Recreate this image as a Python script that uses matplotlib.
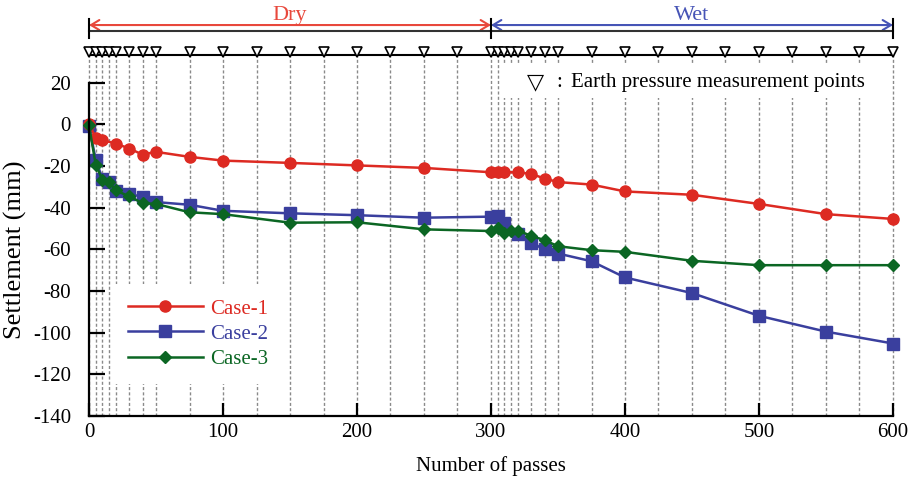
import matplotlib
matplotlib.use("Agg")
import matplotlib.pyplot as plt
from matplotlib.patches import Rectangle

plt.rcParams['font.family'] = ['Liberation Serif', 'DejaVu Sans']
plt.rcParams['axes.unicode_minus'] = False

# ---------------- data ----------------
case1_x = [0, 5, 10, 20, 30, 40, 50, 75, 100, 150, 200, 250, 300, 305, 310, 320,
           330, 340, 350, 375, 400, 450, 500, 550, 600]
case1_y = [0, -6.4, -7.6, -9.2, -11.6, -14.5, -13.2, -15.6, -17.4, -18.5, -19.7, -20.9,
           -23.0, -23.0, -23.0, -23.0, -23.8, -26.0, -27.7, -28.9, -32.2, -33.8, -38.2,
           -43.1, -45.4]

case2_x = [0, 5, 10, 15, 20, 30, 40, 50, 75, 100, 150, 200, 250, 300, 305, 310, 320,
           330, 340, 350, 375, 400, 450, 500, 550, 600]
case2_y = [-0.8, -16.9, -26.0, -27.7, -32.2, -33.3, -34.9, -37.3, -38.6, -41.5, -42.7,
           -43.6, -44.8, -44.3, -44.0, -47.2, -52.8, -56.9, -60.0, -62.0, -65.7, -73.5,
           -81.0, -91.9, -99.5, -105.2]

case3_x = [0, 5, 10, 15, 20, 30, 40, 50, 75, 100, 150, 200, 250, 300, 305, 310, 315,
           320, 330, 340, 350, 375, 400, 450, 500, 550, 600]
case3_y = [-0.5, -19.3, -26.6, -27.7, -31.7, -34.6, -37.8, -38.2, -42.2, -43.1, -47.2,
           -47.0, -50.4, -51.2, -49.9, -52.3, -51.0, -51.0, -53.5, -55.6, -58.5, -60.4,
           -61.2, -65.5, -67.6, -67.6, -67.6]

measure_points = [0, 5, 10, 15, 20, 30, 40, 50, 75, 100, 125, 150, 175, 200, 225, 250,
                  275, 300, 305, 310, 315, 320, 330, 340, 350, 375, 400, 425, 450, 475,
                  500, 525, 550, 575, 600]

series_labels = ["Case-1", "Case-2", "Case-3"]
x_ticks = [0, 100, 200, 300, 400, 500, 600]
y_ticks = [-140, -120, -100, -80, -60, -40, -20, 0, 20]
phase_labels = ["Dry", "Wet"]
phase_bounds = [0, 300, 600]

# ---------------- style ----------------
RED = '#DD2A22'
BLUE = '#3A3F9E'
GREEN = '#0B6623'
RED_ARROW = '#E8483C'
BLUE_ARROW = '#4654B6'
FS = 15

fig = plt.figure(figsize=(9.15, 4.82), dpi=100)
ax = fig.add_axes([89 / 915, 1 - 416 / 482, (893 - 89) / 915, (416 - 82.7) / 482])

ax.set_xlim(0, 600)
ax.set_ylim(-140, 20)

trans = ax.get_xaxis_transform()
top_line = 1.084

# dashed measurement lines
ax.vlines(measure_points, 0, top_line, transform=trans, colors='#8a8a8a',
          linestyles=(0, (2.2, 1.6)), linewidth=1.0, zorder=1, clip_on=False)

# white box behind annotation text
ax.add_patch(Rectangle((308, 0.954), 289, 0.105, transform=trans, facecolor='white',
                       edgecolor='none', zorder=2, clip_on=False))

# series
ax.plot(case1_x, case1_y, color=RED, lw=1.8, marker='o', ms=8, mec=RED, mfc=RED,
        zorder=4, clip_on=False, label=series_labels[0])
ax.plot(case2_x, case2_y, color=BLUE, lw=1.8, marker='s', ms=8.5, mec=BLUE, mfc=BLUE,
        zorder=3, clip_on=False, label=series_labels[1])
ax.plot(case3_x, case3_y, color=GREEN, lw=1.8, marker='D', ms=6, mec=GREEN, mfc=GREEN,
        zorder=5, clip_on=False, label=series_labels[2])

# top row: baseline and triangle markers
ax.plot([0, 600], [top_line, top_line], transform=trans, color='black', lw=1.5,
        clip_on=False, zorder=6)
ax.plot(measure_points, [top_line + 0.009] * len(measure_points), transform=trans,
        linestyle='none', marker='v', ms=6.5, mfc='white', mec='black', mew=1.2,
        clip_on=False, zorder=7)

# phase bracket
bracket_y = 1.155
ax.plot([phase_bounds[0], phase_bounds[-1]], [bracket_y, bracket_y], transform=trans,
        color='#333333', lw=1.5, clip_on=False, zorder=6)
for xb in phase_bounds:
    ax.plot([xb, xb], [1.134, 1.19], transform=trans, color='black', lw=1.5,
            clip_on=False, zorder=6)
arrow_y = 1.173
for (x0, x1), lab, col in zip([(phase_bounds[0], phase_bounds[1]),
                               (phase_bounds[1], phase_bounds[2])],
                              phase_labels, [RED_ARROW, BLUE_ARROW]):
    ax.annotate('', xy=(x0, arrow_y), xytext=(x1, arrow_y), xycoords=trans,
                textcoords=trans,
                arrowprops=dict(arrowstyle='<->,head_length=0.5,head_width=0.3',
                                color=col, lw=1.5, shrinkA=0, shrinkB=0,
                                mutation_scale=12), annotation_clip=False)
    ax.text((x0 + x1) / 2, 1.202, lab, transform=trans, color=col, fontsize=FS + 1,
            ha='center', va='center')

# annotation
ax.text(327, 1.0, '\u25BD', transform=trans, fontsize=FS + 1, ha='left', va='center',
        family=['DejaVu Sans'], zorder=8)
ax.text(348.5, 1.0, ':', transform=trans, fontsize=FS, ha='left', va='center', zorder=8)
ax.text(359.5, 1.0, 'Earth pressure measurement points', transform=trans,
        fontsize=FS, ha='left', va='center', zorder=8)

# axes styling
for s in ['top', 'right']:
    ax.spines[s].set_visible(False)
for s in ['left', 'bottom']:
    ax.spines[s].set_linewidth(1.6)
    ax.spines[s].set_zorder(6)
ax.set_xticks(x_ticks)
ax.set_yticks(y_ticks)
ax.tick_params(axis='y', direction='in', length=11.5, width=1.6, pad=13, labelsize=FS)
ax.tick_params(axis='x', direction='in', length=9.5, width=1.6, pad=5, labelsize=FS)
ax.tick_params(top=False, right=False)

ax.set_xlabel('Number of passes', fontsize=FS)
ax.xaxis.set_label_coords(0.5, -0.12)
ax.set_ylabel('Settlement (mm)', fontsize=19)
ax.yaxis.set_label_coords(-0.077, 0.5)

leg = ax.legend(loc='upper left', bbox_to_anchor=(0.03, 0.395), fontsize=FS,
                frameon=True, fancybox=False, facecolor='white', edgecolor='none',
                framealpha=1, handlelength=3.6, handletextpad=0.35, labelspacing=0.27,
                borderpad=0.7, borderaxespad=0)
leg.set_zorder(8)
for txt, col in zip(leg.get_texts(), [RED, BLUE, GREEN]):
    txt.set_color(col)

fig.savefig('out.png', dpi=100)
